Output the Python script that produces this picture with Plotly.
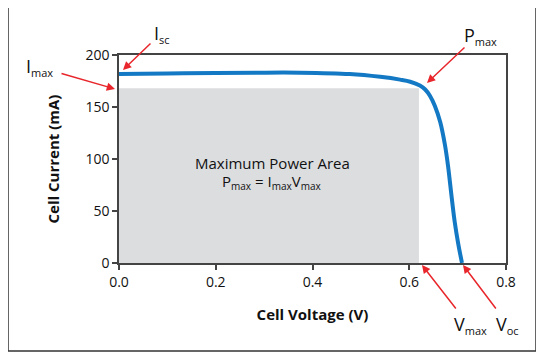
import plotly.graph_objects as go

# ---- data ----
voltage = [0.0, 0.1, 0.2, 0.29, 0.374, 0.477, 0.54, 0.581, 0.602, 0.622, 0.633, 0.643, 0.653, 0.664, 0.674, 0.680, 0.688, 0.694, 0.701, 0.709]
current = [181.7, 182.2, 182.6, 183.0, 183.0, 181.7, 179.0, 176.3, 174.3, 170.6, 166.8, 160.6, 151.0, 135.6, 113.0, 94.0, 62.0, 39.5, 19.2, 0.0]
v_max = 0.62
i_max = 168
x_ticks = [0.0, 0.2, 0.4, 0.6, 0.8]
y_ticks = [0, 50, 100, 150, 200]
x_title = "Cell Voltage (V)"
y_title = "Cell Current (mA)"
area_line1 = "Maximum Power Area"
labels_main = ["I", "I", "P", "V", "V"]
labels_sub = ["sc", "max", "max", "max", "oc"]

FONT = "Open Sans"
OFF = 8  # page body margin
W, H = 544 - OFF, 358 - OFF
PX0, PX1, PY0, PY1 = 119, 506, 55, 263  # plot area in reference pixels
L, T = PX0 - OFF, PY0 - OFF
R, B = 544 - PX1, 358 - PY1
PW, PH = PX1 - PX0, PY1 - PY0

def px2paper(px, py):
    return (px - PX0) / PW, (PY1 - py) / PH

def sub(main, s, big=18, small=11):
    return (f"<span style='font-size:{big}px'>{main}</span>"
            f"<sub><span style='font-size:{small}px'>{s}</span></sub>")

fig = go.Figure()
fig.add_trace(go.Scatter(
    x=[0, v_max, v_max, 0, 0], y=[0, 0, i_max, i_max, 0],
    fill="toself", fillcolor="#dcdddf", line=dict(width=0),
    mode="lines", hoverinfo="skip", showlegend=False))
fig.add_trace(go.Scatter(
    x=voltage, y=current, mode="lines",
    line=dict(color="#1479c4", width=4, shape="spline", smoothing=1.0),
    showlegend=False))

line2 = sub("P", "max", 15, 10) + " = " + sub("I", "max", 15, 10) + sub("V", "max", 15, 10)
for txt, py in [(area_line1, 163), (line2, 182)]:
    x_, y_ = px2paper(272, py)
    fig.add_annotation(x=x_, y=y_, xref="paper", yref="paper", text=txt, showarrow=False,
                       font=dict(family=FONT, size=15, color="#111"), xanchor="center", yanchor="middle")

# arrows: head pixel, tail pixel (reference coords)
arrows = [
    ((123, 70), (152, 42)),
    ((115, 89), (60, 73)),
    ((427, 83), (466, 46)),
    ((422, 265), (457, 310)),
    ((463, 265), (497, 310)),
]
for (hx, hy), (tx, ty) in arrows:
    x_, y_ = px2paper(hx, hy)
    fig.add_annotation(x=x_, y=y_, xref="paper", yref="paper", text="", showarrow=True,
                       ax=tx - hx, ay=ty - hy, arrowhead=2, arrowsize=1.1, arrowwidth=1.5,
                       arrowcolor="#e8262b")

label_pos = [(162, 34), (39, 67), (480, 36), (470, 325), (507, 325)]
for m, s, (lx, ly) in zip(labels_main, labels_sub, label_pos):
    x_, y_ = px2paper(lx, ly)
    fig.add_annotation(x=x_, y=y_, xref="paper", yref="paper", text=sub(m, s), showarrow=False,
                       font=dict(family=FONT, size=18, color="#111"), xanchor="center", yanchor="middle")

bx0, by0 = px2paper(8, 351)
bx1, by1 = px2paper(536, 5)
fig.add_shape(type="rect", xref="paper", yref="paper", x0=bx0, y0=by0, x1=bx1, y1=by1,
              line=dict(color="#333", width=1.5), layer="below")

axis_common = dict(showgrid=False, zeroline=False, showline=True, linecolor="#444", linewidth=1.5,
                   mirror=True, ticks="outside", ticklen=5, tickcolor="#444", tickwidth=1.5,
                   tickfont=dict(family=FONT, size=14, color="#111"))
fig.update_xaxes(range=[0, 0.8], tickvals=x_ticks, ticktext=[f"{v:.1f}" for v in x_ticks],
                 title=dict(text=f"<b>{x_title}</b>", font=dict(family=FONT, size=15, color="#111"), standoff=20),
                 **axis_common)
fig.update_yaxes(range=[0, 200], tickvals=y_ticks,
                 title=dict(text=f"<b>{y_title}</b>", font=dict(family=FONT, size=15, color="#111"), standoff=22),
                 **axis_common)

fig.update_layout(width=W, height=H, margin=dict(l=L, r=R, t=T, b=B),
                  plot_bgcolor="white", paper_bgcolor="white", showlegend=False)
fig.write_html("out.html")
